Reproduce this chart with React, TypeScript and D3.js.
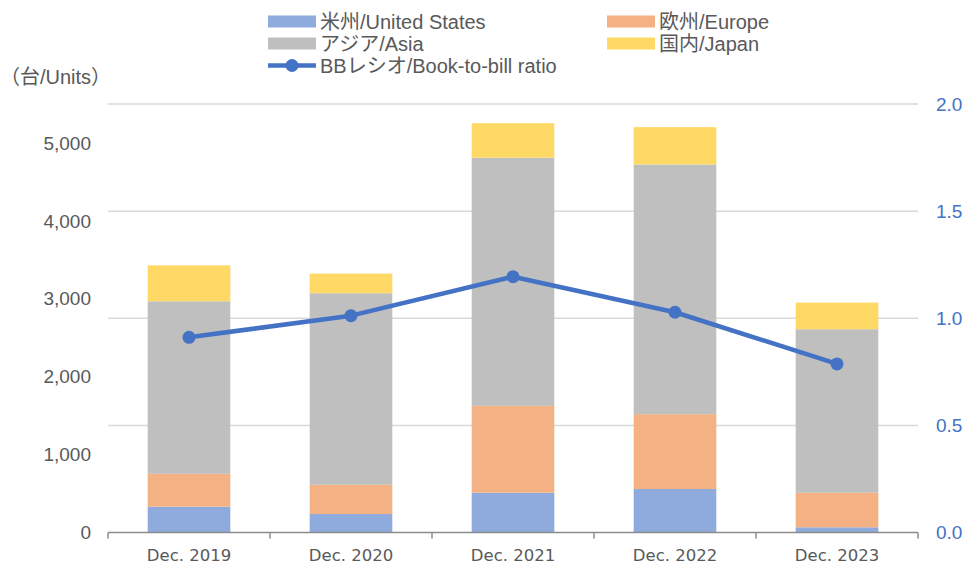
import React, { useEffect, useRef } from "react";
import * as d3 from "d3";

const categories = ["Dec. 2019", "Dec. 2020", "Dec. 2021", "Dec. 2022", "Dec. 2023"];
const seriesNames = ["米州/United States", "欧州/Europe", "アジア/Asia", "国内/Japan"];
const usValues = [331, 237, 510, 558, 67];
const europeValues = [423, 376, 1116, 961, 443];
const asiaValues = [2214, 2458, 3184, 3205, 2099];
const japanValues = [461, 252, 444, 479, 342];
const bbRatio = [0.911, 1.012, 1.194, 1.028, 0.787];
const leftTicks = [0, 1000, 2000, 3000, 4000, 5000];
const rightTicks = [0, 0.5, 1.0, 1.5, 2.0];
const lineName = "BBレシオ/Book-to-bill ratio";
const unitLabel = "（台/Units）";

const colors = ["#8FAADC", "#F4B183", "#BFBFBF", "#FFD966"];
const lineColor = "#4472C4";
const FONT = "'Liberation Sans', Arial, 'Noto Sans CJK JP', sans-serif";

export default function App() {
  const ref = useRef<SVGSVGElement>(null);
  useEffect(() => {
    const svg = d3.select(ref.current);
    svg.selectAll("*").remove();
    const left = 108, right = 918, top = 104, bottom = 532.5;
    const x = d3.scaleBand().domain(categories).range([left, right]).paddingInner(0.49).paddingOuter(0.245);
    const xc = d3.scaleBand().domain(categories).range([left, right]);
    const yL = d3.scaleLinear().domain([0, 5500]).range([bottom, top]);
    const yR = d3.scaleLinear().domain([0, 2]).range([bottom, top]);

    // gridlines (aligned with right axis)
    svg.append("g").selectAll("line").data(rightTicks.filter(t => t > 0)).join("line")
      .attr("x1", left).attr("x2", right)
      .attr("y1", d => yR(d)).attr("y2", d => yR(d))
      .attr("stroke", "#D9D9D9").attr("stroke-width", 1.5);

    // stacked bars
    const rows = categories.map((c, i) => ({ cat: c, s0: usValues[i], s1: europeValues[i], s2: asiaValues[i], s3: japanValues[i] }));
    const stack = d3.stack<any>().keys(["s0", "s1", "s2", "s3"]);
    const layers = stack(rows);
    layers.forEach((layer, li) => {
      svg.append("g").selectAll("rect").data(layer).join("rect")
        .attr("x", d => x(d.data.cat)!)
        .attr("width", x.bandwidth())
        .attr("y", d => yL(d[1]))
        .attr("height", d => yL(d[0]) - yL(d[1]))
        .attr("fill", colors[li]);
    });

    // x axis
    svg.append("line").attr("x1", left).attr("x2", right).attr("y1", bottom).attr("y2", bottom)
      .attr("stroke", "#8C8C8C").attr("stroke-width", 1.5);
    const bounds = categories.map(c => xc(c)!).concat([right]);
    svg.append("g").selectAll("line").data(bounds).join("line")
      .attr("x1", d => d).attr("x2", d => d).attr("y1", bottom).attr("y2", bottom + 6)
      .attr("stroke", "#8C8C8C").attr("stroke-width", 1.5);
    svg.append("g").selectAll("text").data(categories).join("text")
      .attr("x", d => xc(d)! + xc.bandwidth() / 2).attr("y", 561)
      .attr("text-anchor", "middle").attr("font-family", "'DejaVu Sans', Verdana, sans-serif")
      .attr("font-size", 16.5).attr("fill", "#595959").text(d => d);

    // left axis labels
    svg.append("g").selectAll("text").data(leftTicks).join("text")
      .attr("x", 91).attr("y", d => yL(d)).attr("dy", "0.35em")
      .attr("text-anchor", "end").attr("font-family", FONT).attr("font-size", 19)
      .attr("fill", "#595959").text(d => d3.format(",")(d));

    // right axis labels
    svg.append("g").selectAll("text").data(rightTicks).join("text")
      .attr("x", 936).attr("y", d => yR(d)).attr("dy", "0.35em")
      .attr("text-anchor", "start").attr("font-family", FONT).attr("font-size", 19)
      .attr("fill", lineColor).text(d => d.toFixed(1));

    // line
    const line = d3.line<number>().x((_, i) => xc(categories[i])! + xc.bandwidth() / 2).y(d => yR(d));
    svg.append("path").datum(bbRatio).attr("d", line).attr("fill", "none")
      .attr("stroke", lineColor).attr("stroke-width", 4.5).attr("stroke-linejoin", "round");
    svg.append("g").selectAll("circle").data(bbRatio).join("circle")
      .attr("cx", (_, i) => xc(categories[i])! + xc.bandwidth() / 2).attr("cy", d => yR(d))
      .attr("r", 6.5).attr("fill", lineColor);

    // unit label
    svg.append("text").attr("x", 0).attr("y", 84).attr("font-family", FONT).attr("font-size", 20)
      .attr("fill", "#595959").text(unitLabel);

    // legend
    const legendItems = [
      { name: seriesNames[0], color: colors[0], x: 268, y: 21.5 },
      { name: seriesNames[1], color: colors[1], x: 607, y: 21.5 },
      { name: seriesNames[2], color: colors[2], x: 268, y: 43.5 },
      { name: seriesNames[3], color: colors[3], x: 607, y: 43.5 },
    ];
    const lg = svg.append("g");
    legendItems.forEach(it => {
      lg.append("rect").attr("x", it.x).attr("y", it.y - 6).attr("width", 48).attr("height", 12).attr("fill", it.color);
      lg.append("text").attr("x", it.x + 52).attr("y", it.y).attr("dy", "0.35em")
        .attr("font-family", FONT).attr("font-size", 20).attr("fill", "#595959").text(it.name);
    });
    lg.append("line").attr("x1", 268).attr("x2", 316).attr("y1", 65.5).attr("y2", 65.5)
      .attr("stroke", lineColor).attr("stroke-width", 4.5);
    lg.append("circle").attr("cx", 292).attr("cy", 65.5).attr("r", 6.5).attr("fill", lineColor);
    lg.append("text").attr("x", 320).attr("y", 65.5).attr("dy", "0.35em")
      .attr("font-family", FONT).attr("font-size", 20).attr("fill", "#595959").text(lineName);
  }, []);
  return (
    <svg ref={ref} width={966} height={564} style={{ position: "absolute", left: 0, top: 0, background: "#fff" }} />
  );
}
